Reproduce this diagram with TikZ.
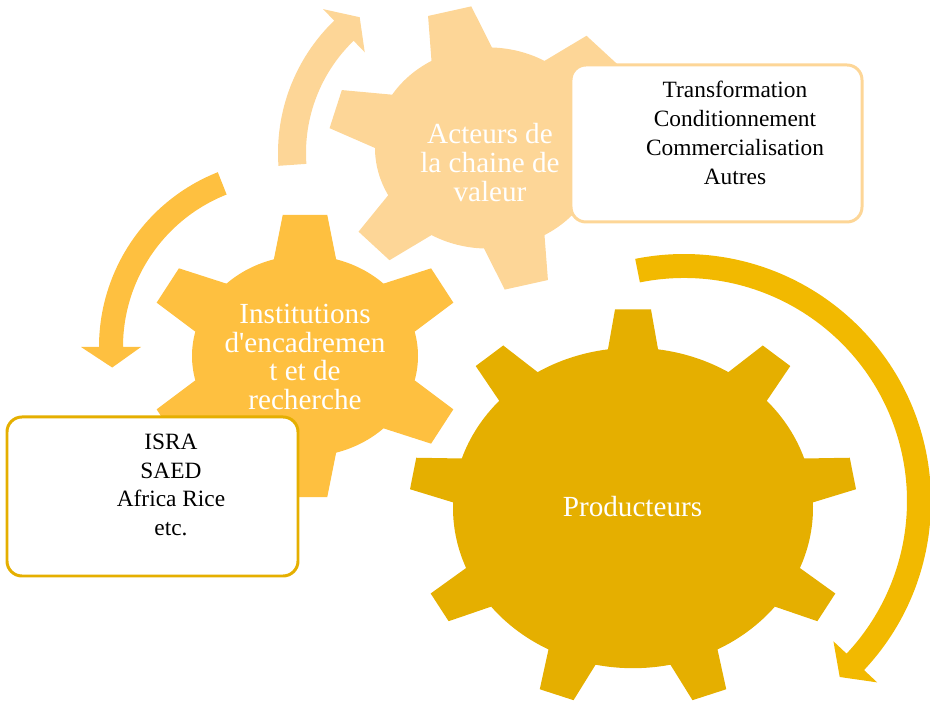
\documentclass[tikz,border=0pt]{standalone}
\usepackage{fontspec}
\setmainfont{Liberation Serif}

\definecolor{clair}{RGB}{253,214,151}
\definecolor{moyen}{RGB}{254,192,64}
\definecolor{fonce}{RGB}{229,175,0}
\definecolor{fleche}{RGB}{242,185,0}

\tikzset{
  gearlabel/.style={text=white, align=center, inner sep=0pt, font=\fontsize{16.6}{16.4}\selectfont},
  listtext/.style={text=black, align=center, inner sep=0pt, font=\fontsize{13.3}{16.4}\selectfont},
  listbox/.style={fill=white, line width=1.7pt, rounded corners=8.5pt},
}

% gear: centre, teeth, body radius, tip radius, base half-angle, tip half-angle, offset, colour
\newcommand{\gear}[8]{%
  \begin{scope}[shift={#1}, yscale=0.89]
    \fill[#8] ({#7-#5}:#3)
      \foreach \k in {1,...,#2}{
        -- ({#7+(\k-1)*360/#2-#6}:#4) -- ({#7+(\k-1)*360/#2+#6}:#4)
        -- ({#7+(\k-1)*360/#2+#5}:#3)
        arc[start angle={#7+(\k-1)*360/#2+#5}, end angle={#7+\k*360/#2-#5}, radius=#3]
      } -- cycle;
  \end{scope}}

% circular arrow: centre, radius, start, end, tip angle, half shaft, half head, colour
\newcommand{\circarrow}[8]{%
  \begin{scope}[shift={#1}]
    \fill[#8] ({#3}:{#2-#6}) arc[start angle=#3, end angle=#4, radius={#2-#6}]
      -- ({#4}:{#2-#7}) -- ({#5}:#2) -- ({#4}:{#2+#7})
      -- ({#4}:{#2+#6}) arc[start angle=#4, end angle=#3, radius={#2+#6}] -- cycle;
  \end{scope}}

\begin{document}
\begin{tikzpicture}[x=0.02cm,y=0.02cm]
  \clip (0,0) rectangle (930,706);
  % arrows
  \circarrow{(462,553)}{170}{184}{134}{127}{14}{30}{clair}
  \circarrow{(287,359)}{176}{111.6}{180}{186.7}{12}{30}{moyen}
  \circarrow{(684,205)}{235}{101.4}{-43.2}{-48.5}{12}{30}{fleche}
  % gears
  \gear{(488,558)}{6}{113}{160}{16}{8}{44}{clair}
  \gear{(305,350)}{6}{113}{160}{16}{8}{90}{moyen}
  \gear{(633,198)}{9}{180}{224}{8}{4.6}{90}{fonce}
  % boxes
  \draw[listbox, draw=clair] (571,641) rectangle (862,484);
  \draw[listbox, draw=fonce] (7,289) rectangle (298,130);
  % labels
  \node[gearlabel] (acteurs) at (490,543.5) {Acteurs de\\la chaine de\\valeur};
  \node[gearlabel] (institutions) at (305,349) {Institutions\\d\textquotesingle encadremen\\t et de\\recherche};
  \node[gearlabel] (producteurs) at (632.5,199) {Producteurs};
  \node[listtext] (activites) at (735,573) {Transformation\\Conditionnement\\Commercialisation\\Autres};
  \node[listtext] (partenaires) at (171,221) {ISRA\\SAED\\Africa Rice\\etc.};
\end{tikzpicture}
\end{document}
